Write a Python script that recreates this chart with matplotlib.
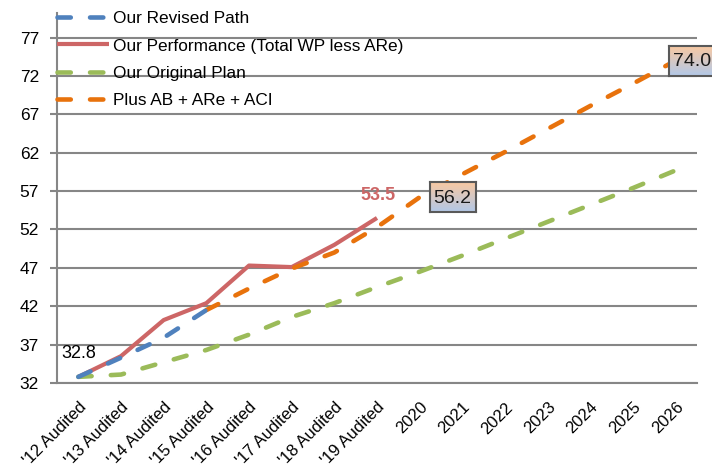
import matplotlib
matplotlib.use("Agg")
import matplotlib.pyplot as plt
import numpy as np

categories = ["'12 Audited", "'13 Audited", "'14 Audited", "'15 Audited", "'16 Audited",
              "'17 Audited", "'18 Audited", "'19 Audited", "2020", "2021", "2022",
              "2023", "2024", "2025", "2026"]
revised_path = [32.8, 35.3, 37.9, 41.5]
performance = [32.8, 35.5, 40.2, 42.4, 47.3, 47.1, 50.0, 53.5]
original_plan = [32.8, 33.1, 34.7, 36.3, 38.3, 40.6, 42.4, 44.5, 46.5, 48.6, 50.8, 53.0, 55.2, 57.4, 59.7]
plus_start = 3
plus_ab = [41.5, 44.3, 46.9, 49.0, 52.3, 56.2, 59.2, 62.1, 65.1, 68.1, 71.0, 74.0]
yticks = [32, 37, 42, 47, 52, 57, 62, 67, 72, 77]

plt.rcParams['font.family'] = ['Liberation Sans', 'DejaVu Sans']

W, H = 712, 472
fig = plt.figure(figsize=(W / 100, H / 100), dpi=100)
ax_l, ax_r, ax_b, ax_t = 57, 697, 383, 13
ax = fig.add_axes([ax_l / W, 1 - ax_b / H, (ax_r - ax_l) / W, (ax_b - ax_t) / H])

x = np.arange(len(categories))
blue = '#4F81BD'
red = '#CD6666'
green = '#9BBB59'
orange = '#E8720C'

dash_kw = dict(linewidth=3.3, dashes=(2.9, 4.2), dash_capstyle='round', solid_capstyle='round')
ax.plot(x[:len(revised_path)], revised_path, color=blue, label='Our Revised Path', zorder=4, **dash_kw)
ax.plot(x[:len(performance)], performance, color=red, linewidth=3.0, label='Our Performance (Total WP less ARe)', zorder=3, solid_capstyle='butt')
ax.plot(x, original_plan, color=green, label='Our Original Plan', zorder=3, **dash_kw)
ax.plot(x[plus_start:plus_start + len(plus_ab)], plus_ab, color=orange, label='Plus AB + ARe + ACI', zorder=3, **dash_kw)

ax.set_xlim(-0.5, len(categories) - 0.5)
ax.set_ylim(32, 80.2)
ax.set_yticks(yticks)
ax.set_yticklabels([str(v) for v in yticks], fontsize=12.5)
ax.set_xticks(x)
ax.set_xticklabels(categories, rotation=45, ha='right', va='top', rotation_mode='anchor', fontsize=12)
ax.tick_params(axis='x', length=0, pad=12)
ax.tick_params(axis='y', length=5, width=1.5, color='#868686', pad=8)
ax.grid(axis='y', color='#868686', linewidth=1.5, zorder=0)
ax.set_axisbelow(True)
for s in ['top', 'right']:
    ax.spines[s].set_visible(False)
ax.spines['left'].set_color('#868686')
ax.spines['left'].set_linewidth(1.5)
ax.spines['bottom'].set_color('#868686')
ax.spines['bottom'].set_linewidth(1.5)

# data labels
ax.annotate(f"{performance[0]:.1f}", (x[0], performance[0]), xytext=(0, 11), textcoords='offset points',
            ha='center', va='bottom', fontsize=13, color='black')
ax.annotate(f"{performance[-1]:.1f}", (x[len(performance) - 1], performance[-1]), xytext=(1, 10),
            textcoords='offset points', ha='center', va='bottom', fontsize=13, color=red, fontweight='bold')

# gradient boxed labels
grad = np.linspace(0, 1, 64)[:, None]
top_c = np.array([248, 200, 162]) / 255
bot_c = np.array([178, 200, 232]) / 255
img = top_c[None, None, :] * (1 - grad[:, :, None]) + bot_c[None, None, :] * grad[:, :, None]

box_idx = [plus_start + 5, plus_start + len(plus_ab) - 1]
box_dx = [10, -7]
bw, bh = 46, 30
for idx, dx in zip(box_idx, box_dx):
    val = plus_ab[idx - plus_start]
    px, py = ax.transData.transform((idx, val))
    left = px + dx
    bax = fig.add_axes([left / W, (py - bh / 2) / H, bw / W, bh / H])
    bax.imshow(img, aspect='auto', extent=[0, 1, 0, 1])
    bax.set_xlim(0, 1); bax.set_ylim(0, 1)
    bax.set_xticks([]); bax.set_yticks([])
    for s in bax.spines.values():
        s.set_color('#595959'); s.set_linewidth(1.5)
    bax.text(0.5, 0.47, f"{val:.1f}", ha='center', va='center', fontsize=14, color='#1a1a1a')

fig.legend(loc='upper left', bbox_to_anchor=(57 / W, 1 - 11 / H), frameon=False, fontsize=12.4,
           handlelength=3.0, handletextpad=0.25, labelspacing=0.72, borderpad=0, borderaxespad=0)

fig.savefig('out.png', dpi=100)
